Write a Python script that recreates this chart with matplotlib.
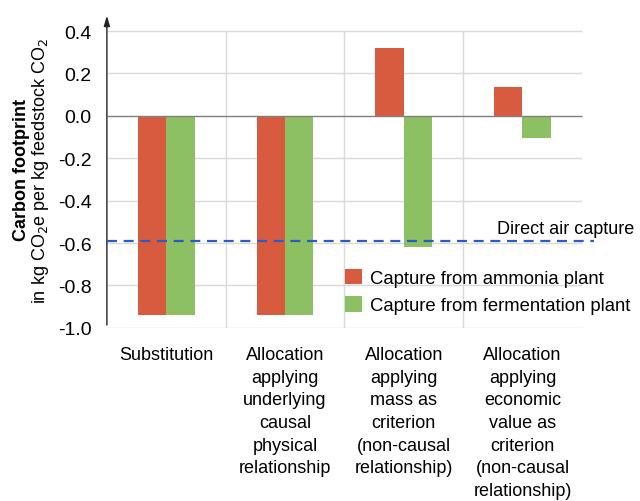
import matplotlib.pyplot as plt
import numpy as np

plt.rcParams['font.family'] = ['Liberation Sans', 'DejaVu Sans']

categories = [
    "Substitution",
    "Allocation\napplying\nunderlying\ncausal\nphysical\nrelationship",
    "Allocation\napplying\nmass as\ncriterion\n(non-causal\nrelationship)",
    "Allocation\napplying\neconomic\nvalue as\ncriterion\n(non-causal\nrelationship)",
]
ammonia = [-0.94, -0.94, 0.318, 0.135]
fermentation = [-0.94, -0.94, -0.62, -0.105]
direct_air = -0.59
yticks = [0.4, 0.2, 0.0, -0.2, -0.4, -0.6, -0.8, -1.0]

red = '#D95B3F'
green = '#8CC062'
blue = '#2A5CC4'
grid = '#D9D9D9'

fig = plt.figure(figsize=(6.4, 5.02), dpi=100)
ax = fig.add_axes([0.167, 0.345, 0.77, 0.625])

x = np.arange(len(categories)) + 0.5
w = 0.24

# grid
for t in yticks:
    if t != 0.0:
        ax.hlines(t, 0, 4, color=grid, lw=1, zorder=0)
ax.vlines([1, 2, 3], -1.0, 0.4, color=grid, lw=1, zorder=0)
ax.hlines(0, 0, 4, color='#7F7F7F', lw=1, zorder=3)

ax.bar(x - w / 2, ammonia, w, color=red, label='Capture from ammonia plant', zorder=2)
ax.bar(x + w / 2, fermentation, w, color=green, label='Capture from fermentation plant', zorder=2)

ax.hlines(direct_air, 0, 4.1, color=blue, lw=1.6, linestyles=(0, (4.5, 3)), zorder=4)
ax.text(4.44, direct_air + 0.018, 'Direct air capture', fontsize=13, ha='right', va='bottom')

ax.set_xlim(0, 4.15)
ax.set_ylim(-1.0, 0.48)
for s in ax.spines.values():
    s.set_visible(False)
ax.annotate('', xy=(0, 0.485), xytext=(0, -1.0), xycoords='data',
            arrowprops=dict(arrowstyle='-|>,head_length=0.6,head_width=0.18', color='#222222', lw=1),
            annotation_clip=False)

ax.set_yticks(yticks)
ax.set_yticklabels([f'{t:.1f}' for t in yticks], fontsize=14)
ax.tick_params(axis='y', length=0, pad=11)
ax.set_xticks(x)
ax.set_xticklabels(categories, fontsize=13, linespacing=1.44, va='top')
ax.tick_params(axis='x', length=0, pad=13)

fig.text(0.034, 0.661, 'Carbon footprint', rotation=90, fontsize=13, fontweight='bold',
         ha='center', va='center')
fig.text(0.064, 0.661, 'in kg CO$_2$e per kg feedstock CO$_2$', rotation=90, fontsize=13,
         ha='center', va='center')

ax.legend(loc='upper left', bbox_to_anchor=(0.484, 0.187), frameon=False, fontsize=13.3,
          handlelength=0.9, handleheight=0.9, handletextpad=0.45, labelspacing=0.5,
          borderpad=0, borderaxespad=0)

fig.savefig('out.png', dpi=100)
